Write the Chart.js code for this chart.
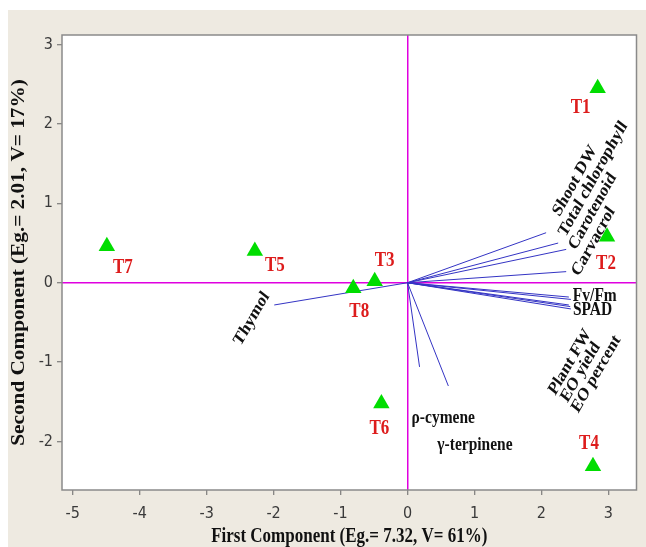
<!DOCTYPE html>
<html>
<head>
<meta charset="utf-8">
<script src="https://cdn.jsdelivr.net/npm/chart.js@4.4.1/dist/chart.umd.min.js"></script>
<style>
  html, body { margin: 0; padding: 0; background: #fff; }
  #wrap { position: absolute; left: 8px; top: 10px; width: 638px; height: 537px; }
</style>
</head>
<body>
<div id="wrap"><canvas id="pca"></canvas></div>
<script>
// treatment scores
var treatments = ['T1', 'T2', 'T3', 'T4', 'T5', 'T6', 'T7', 'T8'];
var scoreX = [2.84, 2.98, -0.49, 2.77, -2.28, -0.39, -4.49, -0.81];
var scoreY = [2.45, 0.58, 0.02, -2.31, 0.40, -1.52, 0.46, -0.07];

// variable loadings
var variables = ['Shoot DW', 'Total chlorophyll', 'Carotenoid', 'Carvacrol', 'Fv/Fm', 'Plant FW',
  'SPAD', 'EO yield', 'EO percent', 'Thymol', '\u03c1-cymene', '\u03b3-terpinene'];
var loadX = [2.07, 2.25, 2.37, 2.37, 2.41, 2.44, 2.44, 2.43, 2.41, -1.99, 0.18, 0.61];
var loadY = [0.63, 0.50, 0.42, 0.14, -0.18, -0.21, -0.33, -0.30, -0.28, -0.28, -1.06, -1.30];

var xTitle = 'First Component (Eg.= 7.32, V= 61%)';
var yTitle = 'Second Component (Eg.= 2.01, V= 17%)';

// label placement (pixel offsets from the mark, page angle of text)
var scoreLabelOffset = [[-17, 20], [-1, 27], [10, -20], [-4, -22], [20, 15], [-2, 25], [16, 22], [6, 24]];
var varLabelOffset = [[10, -18, 61], [4, -8, 61], [6, -1, 61], [9, 3, 61], [4, -1, 0], [-19, 94, 60],
  [2, 1, 0], [-6, 94, 60], [6, 106, 60], [-37, 39, 60], [-8, 51, 0], [-11, 59, 0]];

var STRETCH = 1.18;
var SERIF = "'Liberation Serif', 'Times New Roman', serif";

// draw text with the vertical stretch of the original figure
var stretched_text = function(ctx, text, x, y, pageAngle) {
	var a = Math.atan(Math.tan(pageAngle * Math.PI / 180) / STRETCH);
	if (pageAngle === 90) a = Math.PI / 2;
	ctx.save();
	ctx.translate(x, y);
	ctx.scale(1, STRETCH);
	ctx.rotate(-a);
	ctx.fillText(text, 0, 0);
	ctx.restore();
};

var decor = {
	id: 'decor',
	beforeDraw: function(chart) {
		var ctx = chart.ctx, a = chart.chartArea;
		ctx.save();
		ctx.fillStyle = '#EEEAE1';
		ctx.fillRect(0, 0, chart.width, chart.height);
		ctx.fillStyle = '#fff';
		ctx.fillRect(a.left, a.top, a.right - a.left, a.bottom - a.top);
		ctx.restore();
	},
	afterDatasetsDraw: function(chart) {
		var ctx = chart.ctx, xs = chart.scales.x, ys = chart.scales.y;
		ctx.save();
		ctx.textBaseline = 'middle';

		// treatment labels
		ctx.fillStyle = '#DD1C1C';
		ctx.font = 'bold 17px ' + SERIF;
		ctx.textAlign = 'center';
		for (var i = 0; i < treatments.length; i++) {
			var px = xs.getPixelForValue(scoreX[i]) + scoreLabelOffset[i][0];
			var py = ys.getPixelForValue(scoreY[i]) + scoreLabelOffset[i][1];
			stretched_text(ctx, treatments[i], px, py, 0);
		}

		// variable labels
		ctx.fillStyle = '#111';
		ctx.font = 'bold 15.5px ' + SERIF;
		ctx.textAlign = 'left';
		for (var j = 0; j < variables.length; j++) {
			var o = varLabelOffset[j];
			var vx = xs.getPixelForValue(loadX[j]) + o[0];
			var vy = ys.getPixelForValue(loadY[j]) + o[1];
			stretched_text(ctx, variables[j], vx, vy, o[2]);
		}
		ctx.restore();
	},
	afterDraw: function(chart) {
		var ctx = chart.ctx, a = chart.chartArea;
		ctx.save();
		ctx.strokeStyle = '#8a8a8a';
		ctx.lineWidth = 1.5;
		ctx.strokeRect(a.left, a.top, a.right - a.left, a.bottom - a.top);

		// axis titles
		ctx.fillStyle = '#111';
		ctx.font = 'bold 17px ' + SERIF;
		ctx.textAlign = 'center';
		ctx.textBaseline = 'middle';
		stretched_text(ctx, xTitle, (a.left + a.right) / 2, 527, 0);
		ctx.font = 'bold 18px ' + SERIF;
		stretched_text(ctx, yTitle, 11, (a.top + a.bottom) / 2, 90);
		ctx.restore();
	}
};

// build datasets
var datasets = [{
	label: 'Scores',
	data: scoreX.map(function(v, i) { return {x: v, y: scoreY[i]}; }),
	pointStyle: 'triangle',
	pointRadius: 9.5,
	pointHoverRadius: 9.5,
	backgroundColor: '#00DD00',
	borderColor: '#00DD00',
	borderWidth: 0,
	showLine: false
}];
for (var k = 0; k < variables.length; k++) {
	datasets.push({
		label: variables[k],
		data: [{x: 0, y: 0}, {x: loadX[k], y: loadY[k]}],
		showLine: true,
		borderColor: '#3434c4',
		borderWidth: 1,
		pointRadius: 0,
		pointHoverRadius: 0
	});
}

var zero_color = function(c) { return c.tick && c.tick.value === 0 ? '#E000E0' : 'rgba(0,0,0,0)'; };
var tickFont = {family: "'Liberation Sans Narrow', 'DejaVu Sans Condensed', sans-serif", size: 16};

new Chart(document.getElementById('pca'), {
	type: 'scatter',
	data: {datasets: datasets},
	options: {
		responsive: true,
		maintainAspectRatio: false,
		animation: false,
		layout: {padding: {top: 25, right: 5, left: 0, bottom: 0}},
		plugins: {legend: {display: false}, tooltip: {enabled: false}},
		scales: {
			x: {
				type: 'linear',
				min: -5.16,
				max: 3.42,
				afterFit: function(s) { s.height = 57; },
				border: {display: false},
				grid: {color: zero_color, lineWidth: 1.5, tickColor: '#666', tickWidth: 1, tickLength: 5},
				ticks: {stepSize: 1, includeBounds: false, color: '#3a3a3a', font: tickFont, padding: 9}
			},
			y: {
				type: 'linear',
				min: -2.61,
				max: 3.12,
				afterFit: function(s) { s.width = 54; },
				border: {display: false},
				grid: {color: zero_color, lineWidth: 1.5, tickColor: '#666', tickWidth: 1, tickLength: 5},
				ticks: {stepSize: 1, includeBounds: false, color: '#3a3a3a', font: tickFont, padding: 4}
			}
		}
	},
	plugins: [decor]
});
</script>
</body>
</html>
